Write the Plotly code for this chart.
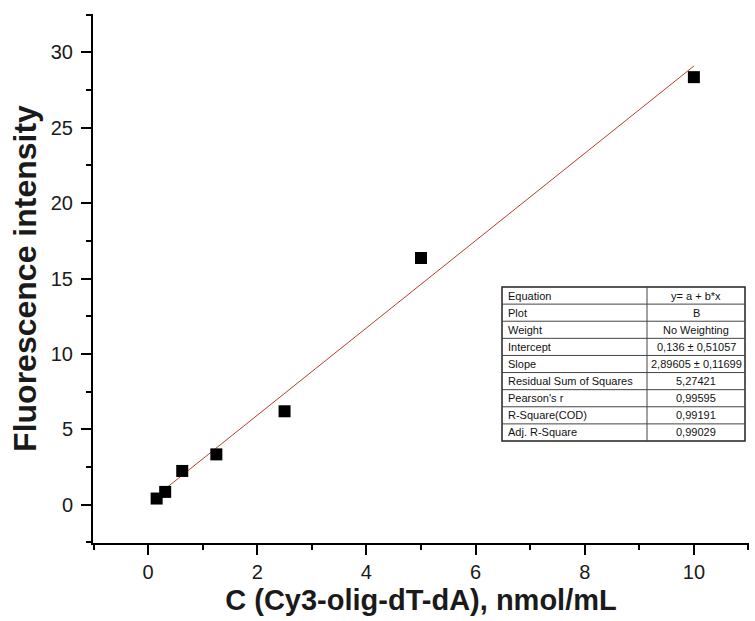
import plotly.graph_objects as go

# ---- data ----
conc = [0.156, 0.3125, 0.625, 1.25, 2.5, 5, 10]
intensity = [0.40, 0.84, 2.23, 3.33, 6.19, 16.36, 28.36]
fit_intercept = 0.136
fit_slope = 2.89605

table_labels = ["Equation", "Plot", "Weight", "Intercept", "Slope",
                "Residual Sum of Squares", "Pearson's r", "R-Square(COD)", "Adj. R-Square"]
table_values = ["y= a + b*x", "B", "No Weighting", "0,136 ± 0,51057", "2,89605 ± 0,11699",
                "5,27421", "0,99595", "0,99191", "0,99029"]

x_range = [-1.01, 11.01]
y_range = [-2.55, 32.55]

W, H = 755, 621
ML, MR, MT, MB = 93, 6, 14, 78

fig = go.Figure()

fit_x = [min(conc), max(conc)]
fit_y = [fit_intercept + fit_slope * v for v in fit_x]
fig.add_trace(go.Scatter(x=fit_x, y=fit_y, mode="lines",
                         line=dict(color="#c0392b", width=1), showlegend=False))
fig.add_trace(go.Scatter(x=conc, y=intensity, mode="markers",
                         marker=dict(symbol="square", size=12, color="black"),
                         showlegend=False))

font_family = "Arial, Liberation Sans, sans-serif"

fig.update_layout(
    width=W, height=H,
    margin=dict(l=ML, r=MR, t=MT, b=MB, autoexpand=False),
    paper_bgcolor="white", plot_bgcolor="white",
    font=dict(family=font_family, color="#1a1a1a"),
    xaxis=dict(range=x_range, showgrid=False, zeroline=False,
               showline=True, linecolor="black", linewidth=2,
               ticks="outside", ticklen=10, tickwidth=2, tickcolor="black",
               tick0=0, dtick=2, tickfont=dict(size=20),
               minor=dict(ticks="outside", ticklen=5, tickwidth=2, tickcolor="black",
                          tick0=-1, dtick=1),
               title=dict(text="<b>C (Cy3-olig-dT-dA), nmol/mL</b>",
                          font=dict(size=29, color="#1a1a1a"), standoff=8)),
    yaxis=dict(range=y_range, showgrid=False, zeroline=False,
               showline=True, linecolor="black", linewidth=2,
               ticks="outside", ticklen=10, tickwidth=2, tickcolor="black",
               tick0=0, dtick=5, tickfont=dict(size=20), ticklabelstandoff=4,
               minor=dict(ticks="outside", ticklen=5, tickwidth=2, tickcolor="black",
                          tick0=-2.5, dtick=2.5),
               title=dict(text="<b>Fluorescence intensity</b>",
                          font=dict(size=32, color="#1a1a1a"), standoff=5)),
)

# ---- fit results table (pixel layout -> paper coords) ----
pw = W - ML - MR
ph = H - MT - MB


def px(xp):
    return (xp - ML) / pw


def py(yp):
    return (H - MB - yp) / ph


t_left, t_right, t_top, t_bot = 502, 745, 287, 441
t_mid = 647
n = len(table_labels)
rh = (t_bot - t_top) / n

shapes = []
shapes.append(dict(type="rect", xref="paper", yref="paper",
                   x0=px(t_left), x1=px(t_right), y0=py(t_bot), y1=py(t_top),
                   line=dict(color="#222", width=1.5), fillcolor="white"))
shapes.append(dict(type="line", xref="paper", yref="paper",
                   x0=px(t_mid), x1=px(t_mid), y0=py(t_bot), y1=py(t_top),
                   line=dict(color="#444", width=1)))
for i in range(1, n):
    yy = t_top + i * rh
    shapes.append(dict(type="line", xref="paper", yref="paper",
                       x0=px(t_left), x1=px(t_right), y0=py(yy), y1=py(yy),
                       line=dict(color="#444", width=1)))

annotations = []
for i, (lab, val) in enumerate(zip(table_labels, table_values)):
    yc = t_top + (i + 0.5) * rh
    annotations.append(dict(xref="paper", yref="paper", x=px(t_left + 4), y=py(yc),
                            text=lab, showarrow=False, xanchor="left", yanchor="middle",
                            font=dict(size=11, family=font_family, color="#111")))
    annotations.append(dict(xref="paper", yref="paper", x=px((t_mid + t_right) / 2), y=py(yc),
                            text=val, showarrow=False, xanchor="center", yanchor="middle",
                            font=dict(size=11, family=font_family, color="#111")))

fig.update_layout(shapes=shapes, annotations=annotations)

fig.write_html("out.html")
